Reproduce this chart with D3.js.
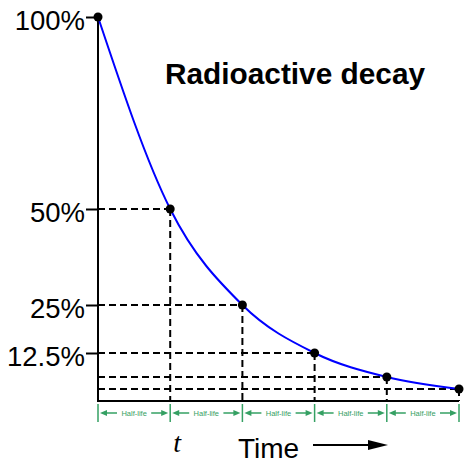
<!DOCTYPE html>
<html>
<head>
<meta charset="utf-8">
<script src="https://cdn.jsdelivr.net/npm/d3@7"></script>
<style>
  html, body { margin: 0; padding: 0; background: #fff; }
  svg { display: block; }
</style>
</head>
<body>
<svg id="chart" width="473" height="466"></svg>
<script>
// Elapsed time in half-lives and fraction of nuclei remaining
const halfLives = [0, 1, 2, 3, 4, 5];
const percentRemaining = [100, 50, 25, 12.5, 6.25, 3.125];

// Labelled y-axis ticks
const yTickValues = [100, 50, 25, 12.5];
const yTickLabels = ["100%", "50%", "25%", "12.5%"];

const titleText = "Radioactive decay";
const intervalText = "Half-life";
const periodSymbol = "t";
const xTitle = "Time";

const svg = d3.select("#chart");
const green = "#35a063";

const x = d3.scaleLinear().domain([0, 5]).range([98, 459]);
const y = d3.scaleLinear().domain([0, 100]).range([401, 17]);

const pts = halfLives.map((t, i) => ({ t, p: percentRemaining[i] }));

// Dashed guides from each point to both axes
const guides = svg.append("g")
  .attr("stroke", "#000")
  .attr("stroke-width", 2)
  .attr("stroke-dasharray", "7,4")
  .attr("fill", "none");
pts.slice(1).forEach(d => {
  guides.append("line")
    .attr("x1", x(0)).attr("x2", x(d.t))
    .attr("y1", y(d.p)).attr("y2", y(d.p));
  guides.append("line")
    .attr("x1", x(d.t)).attr("x2", x(d.t))
    .attr("y1", y(d.p)).attr("y2", y(0));
});

// Axes
const yAxis = d3.axisLeft(y)
  .tickValues(yTickValues)
  .tickFormat((d, i) => yTickLabels[i])
  .tickSize(12)
  .tickPadding(1);
const gy = svg.append("g").attr("transform", `translate(${x(0)},0)`).call(yAxis);
gy.select(".domain").remove();
gy.selectAll(".tick line").attr("stroke", "#000").attr("stroke-width", 2);
gy.selectAll(".tick text")
  .attr("font-family", "Liberation Sans, Arial, sans-serif")
  .attr("font-size", 27.5)
  .attr("fill", "#000")
  .attr("dy", 12);

svg.append("line")
  .attr("x1", x(0)).attr("x2", x(0))
  .attr("y1", y(100)).attr("y2", y(0))
  .attr("stroke", "#000").attr("stroke-width", 2);
svg.append("line")
  .attr("x1", x(0) - 1).attr("x2", x(5))
  .attr("y1", y(0)).attr("y2", y(0))
  .attr("stroke", "#000").attr("stroke-width", 2);

// Decay curve
const line = d3.line()
  .x(d => x(d.t))
  .y(d => y(d.p))
  .curve(d3.curveMonotoneX);
svg.append("path")
  .datum(pts)
  .attr("d", line)
  .attr("fill", "none")
  .attr("stroke", "#0000ff")
  .attr("stroke-width", 2);

// Points
svg.append("g").selectAll("circle")
  .data(pts)
  .join("circle")
  .attr("cx", d => x(d.t))
  .attr("cy", d => y(d.p))
  .attr("r", 4.5)
  .attr("fill", "#000");

// Half-life interval markers under the time axis
const hl = svg.append("g");
const yHL = 413;
halfLives.forEach(t => {
  hl.append("line")
    .attr("x1", x(t)).attr("x2", x(t))
    .attr("y1", 404).attr("y2", 422)
    .attr("stroke", green).attr("stroke-width", 1.5);
});
halfLives.slice(0, -1).forEach((t, i) => {
  const a = x(t), b = x(halfLives[i + 1]);
  const mid = (a + b) / 2;
  // left arrow
  hl.append("line")
    .attr("x1", a + 6).attr("x2", a + 19)
    .attr("y1", yHL).attr("y2", yHL)
    .attr("stroke", green).attr("stroke-width", 1.5);
  hl.append("path")
    .attr("d", `M${a + 2},${yHL} L${a + 9},${yHL - 3} L${a + 9},${yHL + 3} Z`)
    .attr("fill", green);
  // right arrow
  hl.append("line")
    .attr("x1", b - 19).attr("x2", b - 6)
    .attr("y1", yHL).attr("y2", yHL)
    .attr("stroke", green).attr("stroke-width", 1.5);
  hl.append("path")
    .attr("d", `M${b - 2},${yHL} L${b - 9},${yHL - 3} L${b - 9},${yHL + 3} Z`)
    .attr("fill", green);
  hl.append("text")
    .attr("x", mid).attr("y", yHL + 2.5)
    .attr("text-anchor", "middle")
    .attr("font-family", "Liberation Sans, Arial, sans-serif")
    .attr("font-size", 7.5)
    .attr("fill", green)
    .text(intervalText);
});

// Title
svg.append("text")
  .attr("x", 165).attr("y", 84)
  .attr("font-family", "Liberation Sans, Arial, sans-serif")
  .attr("font-weight", "bold")
  .attr("font-size", 29.8)
  .attr("fill", "#000")
  .text(titleText);

// Period symbol under the first half-life
svg.append("text")
  .attr("x", x(1) + 7).attr("y", 452)
  .attr("text-anchor", "middle")
  .attr("font-family", "Liberation Serif, Times New Roman, serif")
  .attr("font-style", "italic")
  .attr("font-size", 28)
  .attr("fill", "#000")
  .text(periodSymbol);

// Time axis title with arrow
svg.append("text")
  .attr("x", 238).attr("y", 458)
  .attr("font-family", "Liberation Sans, Arial, sans-serif")
  .attr("font-size", 28)
  .attr("fill", "#000")
  .text(xTitle);
svg.append("line")
  .attr("x1", 313).attr("x2", 372)
  .attr("y1", 445).attr("y2", 445)
  .attr("stroke", "#000").attr("stroke-width", 2);
svg.append("path")
  .attr("d", "M388,445 L368,440 L368,450 Z")
  .attr("fill", "#000");
</script>
</body>
</html>
